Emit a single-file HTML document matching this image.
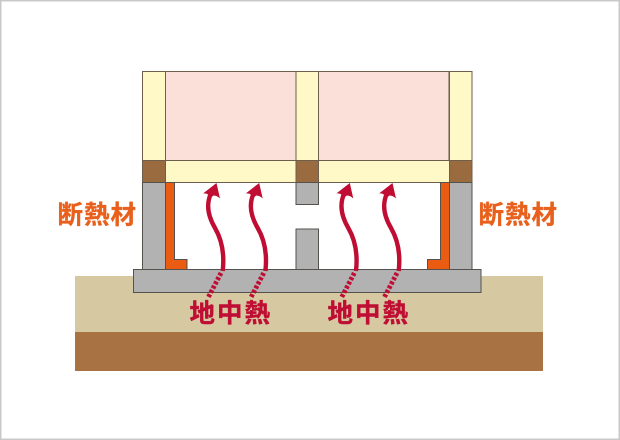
<!DOCTYPE html>
<html><head><meta charset="utf-8">
<style>
html,body{margin:0;padding:0;background:#fff;width:620px;height:440px;overflow:hidden}
svg{display:block}
text{font-family:"Liberation Sans","Noto Sans CJK JP",sans-serif;font-weight:700}
</style></head>
<body>
<svg width="620" height="440" viewBox="0 0 620 440" xmlns="http://www.w3.org/2000/svg">
<rect x="0.75" y="0.75" width="618.5" height="438.5" fill="#fff" stroke="#c8c8c8" stroke-width="1.5"/>
<!-- ground -->
<rect x="75" y="276" width="468" height="56" fill="#d6c9a2"/>
<rect x="75" y="332" width="468" height="39" fill="#a97243"/>
<!-- rooms -->
<g stroke="#6e5f4c" stroke-width="1">
<rect x="165.5" y="71.5" width="130.5" height="89" fill="#fbe0da"/>
<rect x="318.5" y="71.5" width="130.5" height="89" fill="#fbe0da"/>
<rect x="142.5" y="71.5" width="23" height="89" fill="#fff9c8"/>
<rect x="296" y="71.5" width="22.5" height="89" fill="#fff9c8"/>
<rect x="449.5" y="71.5" width="22.5" height="89" fill="#fff9c8"/>
<rect x="165.5" y="160.5" width="130.5" height="22" fill="#fff9c8"/>
<rect x="318.5" y="160.5" width="131" height="22" fill="#fff9c8"/>
<rect x="142.5" y="160.5" width="23" height="22" fill="#9a6b3f"/>
<rect x="296" y="160.5" width="22.5" height="22" fill="#9a6b3f"/>
<rect x="449.5" y="160.5" width="22.5" height="22" fill="#9a6b3f"/>
</g>
<!-- walls -->
<g fill="#b2b2b2" stroke="#55514c" stroke-width="1">
<rect x="142.5" y="182.5" width="23" height="87"/>
<rect x="449.5" y="182.5" width="22.5" height="87"/>
<rect x="296" y="182.5" width="22.5" height="22"/>
<rect x="296" y="229" width="22.5" height="40.5"/>
<!-- insulation -->
<path d="M165.5 182.5H174.5V259.5H187V269.5H165.5Z" fill="#e95c12"/>
<path d="M449.5 182.5H440.5V259.5H427.5V269.5H449.5Z" fill="#e95c12"/>
<rect x="133.5" y="269.5" width="347.5" height="23"/>
</g>
<!-- arrows -->
<defs>
<g id="a">
<path d="M222.7 271C224.5 255 222 240 215 228C208 216 207 207 209 199C210 195 211 192 213 190" fill="none" stroke="#bf0d33" stroke-width="4.4"/>
<path d="M216.500 183L203 193.500C206.500 193 209 194.500 210.500 198L213.500 195.500C216 195.500 218 196.500 220 198.500Z" fill="#bf0d33"/>
<path d="M221 273L208.500 297" fill="none" stroke="#bf0d33" stroke-width="4.800" stroke-dasharray="3 1.800"/>
</g>
</defs>
<use href="#a"/>
<use href="#a" x="42.700"/>
<use href="#a" x="133.300"/>
<use href="#a" x="176"/>
<!-- labels -->
<g font-size="25.500" fill="#e8601c" stroke="#e8601c" stroke-width="0.300" letter-spacing="1">
<text x="57.500" y="223.500">断熱材</text>
<text x="478.500" y="223.500">断熱材</text>
</g>
<g font-size="25.500" fill="#bf0d33" stroke="#bf0d33" stroke-width="0.400" letter-spacing="2">
<text x="189.500" y="322">地中熱</text>
<text x="327.500" y="322">地中熱</text>
</g>
</svg>
</body></html>
